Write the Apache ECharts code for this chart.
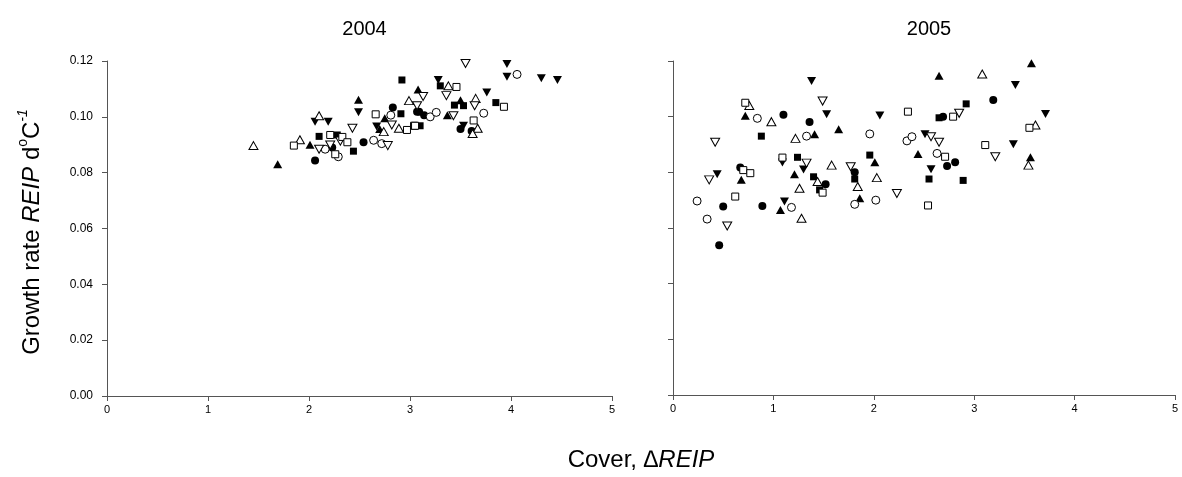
<!DOCTYPE html>
<html><head><meta charset="utf-8">
<script src="https://cdn.jsdelivr.net/npm/echarts@6/dist/echarts.min.js"></script>
<style>html,body{margin:0;padding:0;background:#fff}#c{width:1182px;height:477px}</style>
</head><body><div id="c"></div>
<script>
const years = ['2004', '2005'];
const xTicks = [0, 1, 2, 3, 4, 5];
const yTicks = [0, 0.02, 0.04, 0.06, 0.08, 0.10, 0.12];

// 2004
const fc04 = [[2.06,0.0844],[2.23,0.0890],[2.54,0.0909],[2.83,0.1033],[3.07,0.1018],[3.09,0.1018],[3.14,0.1006],[3.50,0.0956],[3.61,0.0949]];
const oc04 = [[2.16,0.0884],[2.29,0.0857],[2.64,0.0916],[2.72,0.0904],[2.81,0.1006],[3.20,0.1000],[3.26,0.1016],[3.73,0.1013],[4.06,0.1152]];
const ftu04 = [[1.69,0.0830],[2.01,0.0900],[2.49,0.1061],[2.75,0.0995],[2.70,0.0956],[3.08,0.1098],[3.37,0.1006],[3.50,0.1059]];
const otu04 = [[1.45,0.0897],[1.91,0.0918],[2.10,0.1004],[2.74,0.0947],[2.89,0.0959],[2.99,0.1058],[3.38,0.1111],[3.65,0.1066],[3.67,0.0959],[3.62,0.0940]];
const ftd04 = [[2.06,0.0982],[2.19,0.0982],[2.49,0.1016],[2.67,0.0965],[3.28,0.1132],[3.76,0.1087],[3.96,0.1189],[3.96,0.1144],[4.30,0.1138],[4.46,0.1132],[3.53,0.0968]];
const otd04 = [[2.10,0.0884],[2.21,0.0899],[2.31,0.0913],[2.43,0.0959],[2.78,0.0897],[2.82,0.0971],[3.13,0.1073],[3.36,0.1076],[3.55,0.1191],[3.64,0.1040],[3.07,0.1040],[3.43,0.1004]];
const fs04 = [[2.10,0.0930],[2.28,0.0935],[2.44,0.0877],[2.91,0.1011],[2.92,0.1132],[3.30,0.1111],[3.44,0.1042],[3.53,0.1040],[3.85,0.1051],[3.10,0.0968]];
const os04 = [[1.85,0.0897],[2.21,0.0935],[2.33,0.0928],[2.38,0.0909],[2.26,0.0866],[2.66,0.1009],[2.97,0.0953],[3.04,0.0968],[3.46,0.1107],[3.93,0.1036],[3.63,0.0987],[3.05,0.0968]];

// 2005
const fc05 = [[1.10,0.1007],[1.36,0.0981],[1.81,0.0800],[0.67,0.0817],[0.50,0.0677],[0.46,0.0538],[0.89,0.0679],[1.52,0.0757],[3.19,0.1060],[2.69,0.1000],[2.73,0.0823],[2.81,0.0836]];
const oc05 = [[0.84,0.0994],[1.33,0.0930],[1.96,0.0938],[1.81,0.0685],[2.02,0.0700],[0.24,0.0697],[0.34,0.0632],[1.18,0.0674],[2.33,0.0913],[2.38,0.0928],[2.63,0.0868]];
const ftu05 = [[0.72,0.1003],[1.65,0.0955],[1.41,0.0937],[1.21,0.0793],[2.01,0.0836],[1.86,0.0707],[0.68,0.0773],[1.07,0.0665],[3.57,0.1192],[2.65,0.1147],[2.44,0.0866],[3.56,0.0854]];
const otu05 = [[0.76,0.1040],[0.98,0.0982],[1.22,0.0922],[1.58,0.0826],[1.84,0.0749],[2.03,0.0781],[1.28,0.0635],[1.44,0.0767],[1.26,0.0743],[3.08,0.1153],[3.61,0.0970],[3.54,0.0826]];
const ftd05 = [[1.38,0.1128],[1.53,0.1009],[1.09,0.0835],[1.30,0.0810],[0.44,0.0793],[1.11,0.0695],[3.41,0.1114],[3.71,0.1010],[2.06,0.1004],[2.51,0.0937],[3.39,0.0901],[2.57,0.0811]];
const otd05 = [[1.49,0.1056],[0.42,0.0908],[1.33,0.0833],[1.77,0.0820],[0.36,0.0773],[0.54,0.0607],[2.85,0.1012],[2.57,0.0928],[2.65,0.0908],[3.21,0.0856],[2.23,0.0724]];
const fs05 = [[0.88,0.0930],[1.24,0.0854],[1.96,0.0862],[1.81,0.0776],[1.40,0.0784],[1.46,0.0737],[2.92,0.1046],[2.65,0.0996],[2.55,0.0776],[2.89,0.0771]];
const os05 = [[0.72,0.1050],[1.09,0.0853],[0.70,0.0808],[0.77,0.0797],[0.62,0.0713],[1.49,0.0727],[2.34,0.1018],[2.79,0.1000],[3.55,0.0960],[3.11,0.0898],[2.71,0.0856],[2.54,0.0681]];

const sets = [
  [fc04, ftu04, ftd04, fs04, oc04, otu04, otd04, os04],
  [fc05, ftu05, ftd05, fs05, oc05, otu05, otd05, os05]
];
const styles = [
  {symbol:'circle', size:8, rot:0, open:false},
  {symbol:'triangle', size:[9,8], rot:0, open:false},
  {symbol:'triangle', size:[9,8], rot:180, open:false},
  {symbol:'rect', size:7, rot:0, open:false},
  {symbol:'circle', size:8, rot:0, open:true},
  {symbol:'triangle', size:[9,8], rot:0, open:true},
  {symbol:'triangle', size:[9,8], rot:180, open:true},
  {symbol:'rect', size:7, rot:0, open:true}
];

const FONT = '"Liberation Sans", Arial, sans-serif';
const grids = [
  {left:107, top:61, width:505, height:335},
  {left:673, top:61, width:502, height:334}
];
const axisLine = {show:true, lineStyle:{color:'#555', width:1}};
const xAxes = grids.map((g,i)=>({
  type:'value', gridIndex:i, min:xTicks[0], max:xTicks[xTicks.length-1], interval:1,
  axisLine:axisLine, axisTick:{show:true, length:5, lineStyle:{color:'#555'}},
  axisLabel:{fontFamily:FONT, fontSize:11, color:'#000', margin:8},
  splitLine:{show:false}
}));
const yAxes = grids.map((g,i)=>({
  type:'value', gridIndex:i, min:yTicks[0], max:yTicks[yTicks.length-1], interval:0.02,
  axisLine:axisLine, axisTick:{show:true, length:5, lineStyle:{color:'#555'}},
  axisLabel:{show:i===0, fontFamily:FONT, fontSize:12, color:'#000', margin:14,
    formatter:v=>v.toFixed(2)},
  splitLine:{show:false}
}));
const series = [];
sets.forEach((arr,gi)=>{
  arr.forEach((d,k)=>{
    const s = styles[k];
    series.push({
      type:'scatter', xAxisIndex:gi, yAxisIndex:gi, data:d,
      symbol:s.symbol, symbolSize:s.size, symbolRotate:s.rot,
      itemStyle: s.open ? {color:'#fff', borderColor:'#000', borderWidth:1, opacity:1}
                        : {color:'#000', borderColor:'#000', borderWidth:0, opacity:1},
      emphasis:{disabled:true}, animation:false
    });
  });
});
const chart = echarts.init(document.getElementById('c'));
chart.setOption({
  animation:false,
  backgroundColor:'#fff',
  title: years.map((y,i)=>({
    text:y, left:grids[i].left + grids[i].width/2, top:14, textAlign:'center',
    textStyle:{fontFamily:FONT, fontSize:20, fontWeight:'normal', color:'#000'}
  })),
  grid: grids,
  xAxis: xAxes,
  yAxis: yAxes,
  series: series,
  graphic: [
    {type:'text', x:30, y:232, rotation:Math.PI/2,
     style:{text:'{n|Growth rate }{i|REIP}{n| d}{s|o}{n|C}{si|-1}', align:'center', verticalAlign:'middle',
       fill:'#000',
       rich:{
         n:{fontFamily:FONT, fontSize:24, fill:'#000', verticalAlign:'bottom', lineHeight:28},
         i:{fontFamily:FONT, fontSize:24, fontStyle:'italic', fill:'#000', verticalAlign:'bottom', lineHeight:28},
         s:{fontFamily:FONT, fontSize:14, fill:'#000', verticalAlign:'top', lineHeight:28},
         si:{fontFamily:FONT, fontSize:14, fontStyle:'italic', fill:'#000', verticalAlign:'top', lineHeight:28}
       }}},
    {type:'text', x:641, y:460,
     style:{text:'{n|Cover, }{i|\u2206REIP}', align:'center', verticalAlign:'middle',
       rich:{
         n:{fontFamily:FONT, fontSize:24, fill:'#000'},
         i:{fontFamily:FONT, fontSize:24, fontStyle:'italic', fill:'#000'}
       }}}
  ]
});
</script>
</body></html>
